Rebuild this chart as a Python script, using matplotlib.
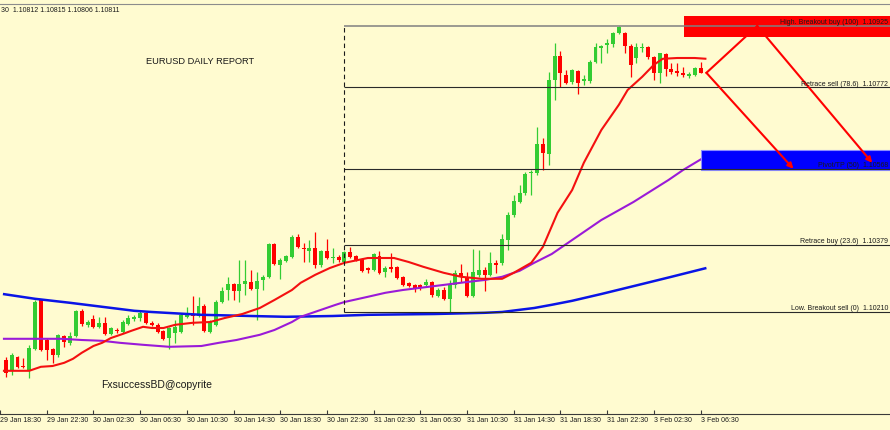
import numpy as np
import matplotlib
matplotlib.use("Agg")
import matplotlib.pyplot as plt
from matplotlib.patches import Rectangle

plt.rcParams["font.family"] = ["Liberation Sans", "DejaVu Sans"]

# EURUSD M30 bars (bar 0 = first visible bar)
opens = [
    1.10090, 1.10065, 1.10098, 1.10075, 1.10065, 1.10118, 1.10240, 1.10140, 1.10118, 1.10103,
    1.10150, 1.10133, 1.10150, 1.10213, 1.10178, 1.10193, 1.10173, 1.10183, 1.10155, 1.10165,
    1.10160, 1.10180, 1.10193, 1.10195, 1.10208, 1.10183, 1.10178, 1.10163, 1.10145, 1.10158,
    1.10160, 1.10198, 1.10205, 1.10200, 1.10225, 1.10160, 1.10178, 1.10235, 1.10265, 1.10280,
    1.10263, 1.10280, 1.10285, 1.10268, 1.10290, 1.10298, 1.10380, 1.10328, 1.10338, 1.10348,
    1.10398, 1.10370, 1.10363, 1.10370, 1.10328, 1.10363, 1.10345, 1.10348, 1.10335, 1.10360,
    1.10350, 1.10343, 1.10320, 1.10315, 1.10350, 1.10310, 1.10323, 1.10323, 1.10298, 1.10283,
    1.10278, 1.10278, 1.10278, 1.10285, 1.10250, 1.10265, 1.10243, 1.10278, 1.10308, 1.10298,
    1.10250, 1.10303, 1.10315, 1.10303, 1.10333, 1.10333, 1.10390, 1.10453, 1.10485, 1.10508,
    1.10558, 1.10558, 1.10630, 1.10605, 1.10790, 1.10850, 1.10803, 1.10785, 1.10813, 1.10788,
    1.10788, 1.10835, 1.10870, 1.10878, 1.10880, 1.10908, 1.10908, 1.10875, 1.10845, 1.10870,
    1.10873, 1.10848, 1.10808, 1.10855, 1.10818, 1.10813, 1.10808, 1.10800, 1.10803, 1.10820,
]
highs = [
    1.10098, 1.10108, 1.10100, 1.10095, 1.10128, 1.10240, 1.10243, 1.10145, 1.10120, 1.10155,
    1.10153, 1.10160, 1.10215, 1.10218, 1.10190, 1.10203, 1.10198, 1.10198, 1.10173, 1.10170,
    1.10190, 1.10203, 1.10203, 1.10213, 1.10210, 1.10188, 1.10183, 1.10165, 1.10173, 1.10190,
    1.10208, 1.10223, 1.10250, 1.10248, 1.10230, 1.10190, 1.10240, 1.10273, 1.10298, 1.10283,
    1.10340, 1.10340, 1.10315, 1.10310, 1.10303, 1.10383, 1.10383, 1.10345, 1.10353, 1.10403,
    1.10405, 1.10383, 1.10390, 1.10410, 1.10365, 1.10393, 1.10370, 1.10353, 1.10363, 1.10373,
    1.10353, 1.10345, 1.10323, 1.10358, 1.10363, 1.10325, 1.10358, 1.10325, 1.10300, 1.10285,
    1.10280, 1.10280, 1.10293, 1.10288, 1.10270, 1.10273, 1.10290, 1.10315, 1.10330, 1.10310,
    1.10368, 1.10365, 1.10323, 1.10360, 1.10340, 1.10405, 1.10460, 1.10503, 1.10528, 1.10560,
    1.10565, 1.10673, 1.10645, 1.10810, 1.10883, 1.10863, 1.10815, 1.10818, 1.10815, 1.10803,
    1.10840, 1.10883, 1.10878, 1.10893, 1.10910, 1.10925, 1.10910, 1.10880, 1.10883, 1.10883,
    1.10875, 1.10850, 1.10858, 1.10858, 1.10833, 1.10833, 1.10823, 1.10810, 1.10823, 1.10835,
]
lows = [
    1.10048, 1.10053, 1.10070, 1.10070, 1.10045, 1.10115, 1.10113, 1.10090, 1.10083, 1.10098,
    1.10123, 1.10128, 1.10148, 1.10175, 1.10173, 1.10170, 1.10170, 1.10153, 1.10153, 1.10158,
    1.10158, 1.10178, 1.10188, 1.10188, 1.10180, 1.10175, 1.10158, 1.10140, 1.10118, 1.10133,
    1.10158, 1.10195, 1.10178, 1.10198, 1.10160, 1.10158, 1.10175, 1.10233, 1.10240, 1.10240,
    1.10235, 1.10253, 1.10265, 1.10190, 1.10265, 1.10295, 1.10328, 1.10293, 1.10335, 1.10345,
    1.10370, 1.10335, 1.10335, 1.10320, 1.10323, 1.10343, 1.10333, 1.10335, 1.10333, 1.10345,
    1.10338, 1.10310, 1.10308, 1.10313, 1.10305, 1.10298, 1.10310, 1.10293, 1.10275, 1.10273,
    1.10260, 1.10265, 1.10275, 1.10248, 1.10248, 1.10240, 1.10210, 1.10270, 1.10285, 1.10248,
    1.10248, 1.10298, 1.10263, 1.10300, 1.10308, 1.10328, 1.10365, 1.10448, 1.10483, 1.10503,
    1.10503, 1.10553, 1.10565, 1.10578, 1.10740, 1.10773, 1.10780, 1.10780, 1.10755, 1.10778,
    1.10783, 1.10833, 1.10833, 1.10858, 1.10873, 1.10905, 1.10858, 1.10798, 1.10833, 1.10860,
    1.10843, 1.10790, 1.10783, 1.10800, 1.10805, 1.10800, 1.10798, 1.10795, 1.10800, 1.10808,
]
closes = [
    1.10058, 1.10103, 1.10073, 1.10073, 1.10120, 1.10235, 1.10115, 1.10115, 1.10103, 1.10153,
    1.10135, 1.10150, 1.10213, 1.10180, 1.10185, 1.10173, 1.10183, 1.10155, 1.10170, 1.10163,
    1.10185, 1.10195, 1.10198, 1.10208, 1.10183, 1.10178, 1.10160, 1.10143, 1.10170, 1.10173,
    1.10203, 1.10203, 1.10200, 1.10225, 1.10163, 1.10185, 1.10235, 1.10263, 1.10280, 1.10263,
    1.10280, 1.10288, 1.10268, 1.10288, 1.10298, 1.10380, 1.10330, 1.10340, 1.10350, 1.10398,
    1.10373, 1.10368, 1.10370, 1.10328, 1.10363, 1.10345, 1.10348, 1.10340, 1.10360, 1.10348,
    1.10340, 1.10313, 1.10315, 1.10355, 1.10308, 1.10320, 1.10318, 1.10295, 1.10278, 1.10275,
    1.10270, 1.10273, 1.10285, 1.10253, 1.10265, 1.10243, 1.10278, 1.10308, 1.10298, 1.10250,
    1.10310, 1.10315, 1.10303, 1.10333, 1.10328, 1.10393, 1.10453, 1.10488, 1.10508, 1.10555,
    1.10560, 1.10630, 1.10608, 1.10790, 1.10850, 1.10808, 1.10783, 1.10815, 1.10783, 1.10793,
    1.10835, 1.10873, 1.10875, 1.10883, 1.10908, 1.10923, 1.10875, 1.10828, 1.10873, 1.10873,
    1.10848, 1.10808, 1.10858, 1.10818, 1.10810, 1.10808, 1.10803, 1.10805, 1.10820, 1.10808,
]

# moving averages, read at bar positions
ma_red_x = [-0.5, 4, 6, 8, 10, 11.5, 13, 15, 16.5, 18, 20, 21.5, 23.5, 25, 27, 29, 32, 35,
            37.5, 40.5, 43.5, 46, 49, 50.5, 53, 55.5, 58, 62, 66.5, 69, 71.5, 75, 78, 81.5,
            85, 87, 90, 92, 94.5, 97, 99, 102, 105, 106.5, 109, 111, 112.5, 115, 118, 120]
ma_red = [1.10063, 1.10063, 1.10073, 1.10075, 1.10083, 1.10093, 1.10108, 1.10125, 1.10133,
          1.10145, 1.10155, 1.10163, 1.10173, 1.10170, 1.10170, 1.10178, 1.10183, 1.10185,
          1.10195, 1.10205, 1.10220, 1.10240, 1.10265, 1.10283, 1.10303, 1.10320, 1.10333,
          1.10345, 1.10345, 1.10335, 1.10323, 1.10308, 1.10298, 1.10293, 1.10293, 1.10308,
          1.10333, 1.10373, 1.10458, 1.10515, 1.10583, 1.10665, 1.10728, 1.10765, 1.10798,
          1.10828, 1.10843, 1.10845, 1.10845, 1.10843]
ma_purple_x = [-0.5, 5, 9.5, 13, 16.5, 19.5, 23.5, 28, 33.5, 36.5, 39.5, 43.5, 46, 49, 50.5,
               53.5, 56.5, 58, 62, 65, 68, 73.5, 79, 82, 85, 88, 90.5, 93.5, 102, 107.5,
               113.5, 116, 120]
ma_purple = [1.10143, 1.10143, 1.10143, 1.10140, 1.10138, 1.10133, 1.10128, 1.10123, 1.10125,
             1.10133, 1.10140, 1.10153, 1.10165, 1.10185, 1.10198, 1.10213, 1.10228, 1.10235,
             1.10248, 1.10258, 1.10265, 1.10275, 1.10285, 1.10290, 1.10298, 1.10313, 1.10333,
             1.10355, 1.10440, 1.10485, 1.10540, 1.10565, 1.10600]
ma_blue_x = [-0.5, 5, 11, 16.5, 22, 25, 33.5, 42, 48, 56, 62, 73.5, 82, 85, 90.5, 93.5, 97,
             102, 109, 114, 120]
ma_blue = [1.10255, 1.10243, 1.10233, 1.10223, 1.10213, 1.10210, 1.10203, 1.10200, 1.10198,
           1.10200, 1.10203, 1.10205, 1.10208, 1.10210, 1.10220, 1.10228, 1.10238, 1.10255,
           1.10280, 1.10298, 1.10320]

tick_labels = ["29 Jan 18:30", "29 Jan 22:30", "30 Jan 02:30", "30 Jan 06:30", "30 Jan 10:30",
               "30 Jan 14:30", "30 Jan 18:30", "30 Jan 22:30", "31 Jan 02:30", "31 Jan 06:30",
               "31 Jan 10:30", "31 Jan 14:30", "31 Jan 18:30", "31 Jan 22:30", "3 Feb 02:30",
               "3 Feb 06:30"]

fib_low, fib_high = 1.10210, 1.10925
fib_start = 58.0
fib_levels = [100, 78.6, 50, 23.6, 0]
fib_names = ["High. Breakout buy", "Retrace sell", "Pivot/TP", "Retrace buy", "Low. Breakout sell"]

BG = "#FFFBD0"
GREEN = "#33CC33"
RED = "#FF0000"
W, H = 890, 430

fig = plt.figure(figsize=(8.9, 4.3), dpi=100, facecolor=BG)
ax = fig.add_axes([0, 16 / H, 1, 410 / H], facecolor=BG)
ax.set_xlim(-3 / 5.857, 887 / 5.857)
ax.set_ylim(1.09955, 1.10980)

# candles
o, h, l, c = map(np.array, (opens, highs, lows, closes))
idx = np.arange(len(o))
up = c >= o
cols = np.where(up, GREEN, RED)
ax.vlines(idx, l, h, colors=cols, lw=0.9, zorder=2)
body = np.maximum(np.abs(c - o), 0.00003)
ax.bar(idx, body, bottom=np.minimum(o, c), width=0.68, color=cols, linewidth=0, zorder=3)

# moving averages
ax.plot(ma_blue_x, ma_blue, color="#0A14E6", lw=1.8, zorder=4, solid_capstyle="butt")
ax.plot(ma_purple_x, ma_purple, color="#9A1AD8", lw=1.5, zorder=4, solid_capstyle="butt")
ax.plot(ma_red_x, ma_red, color="#F41010", lw=1.5, zorder=4, solid_capstyle="butt")

# zones
ax.add_patch(Rectangle((116.1, 1.10898), 60, 0.00052, facecolor="#FF0000",
                       edgecolor="none", zorder=5))
ax.add_patch(Rectangle((119.0, 1.10565), 60, 0.00050, facecolor="#0000FF",
                       edgecolor="#8C8CFF", lw=0.8, zorder=5))

# fibonacci levels
rng = fib_high - fib_low
for lev, name in zip(fib_levels, fib_names):
    p = fib_low + rng * lev / 100
    col = "#808080" if lev == 100 else "#2a2a2a"
    ax.hlines(p, fib_start, 160, colors=col, lw=1.1 if lev == 100 else 0.8, zorder=6)
    ax.text(888 / W, p + 0.00004, f"{name} ({lev:g})  {p:.5f}",
            transform=ax.get_yaxis_transform(), fontsize=5, color="#1a1a1a",
            ha="right", va="baseline", zorder=8)
ax.vlines(fib_start, fib_low, fib_high, colors="#1a1a1a", lw=0.8,
          linestyles=(0, (4, 3)), zorder=6)

# projected path arrows
ax.plot([120.0, 128.7], [closes[-1], fib_high], color=RED, lw=1.5, zorder=7)
arrow = dict(arrowstyle="-|>", color=RED, lw=1.5, mutation_scale=8, shrinkA=0, shrinkB=0)
ax.annotate("", xy=(148.4, 1.10583), xytext=(128.7, fib_high), arrowprops=arrow, zorder=7)
ax.annotate("", xy=(134.9, 1.10568), xytext=(120.0, closes[-1]), arrowprops=arrow, zorder=7)

# axes styling
for s in ("left", "right"):
    ax.spines[s].set_visible(False)
ax.spines["top"].set_color("#8c8c8c")
ax.spines["bottom"].set_color("#3a3a3a")
ax.set_yticks([])
ticks = np.arange(-1, len(o), 8)
ax.set_xticks(ticks)
ax.set_xticklabels(tick_labels, fontsize=5, ha="left", color="#1a1a1a")
ax.tick_params(axis="x", direction="in", length=3, pad=2, color="#3a3a3a")

fig.text(1 / W, 1 - 10 / H, "30  1.10812 1.10815 1.10806 1.10811", fontsize=5,
         va="center", ha="left", color="#1a1a1a")
fig.text(200 / W, 1 - 62 / H, "EURUSD DAILY REPORT", fontsize=6.7, ha="center",
         va="center", color="#1a1a1a")
fig.text(157 / W, 1 - 385 / H, "FxsuccessBD@copyrite", fontsize=7.5, ha="center",
         va="center", color="#1a1a1a")

fig.savefig("out.png", dpi=100, facecolor=BG)
